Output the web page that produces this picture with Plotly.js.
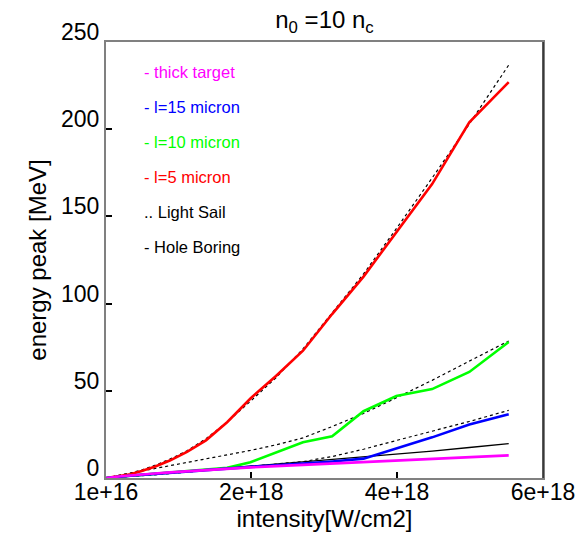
<!DOCTYPE html>
<html>
<head>
<meta charset="utf-8">
<script src="https://cdn.plot.ly/plotly-3.0.1.min.js"></script>
<style>
  html, body { margin: 0; padding: 0; background: #fff; }
  #chart { width: 578px; height: 536px; }
</style>
</head>
<body>
<div id="chart"></div>
<script>
// Laser intensity samples [W/cm2]
const intensity = [1.4e16, 5.5e16, 1.24e17, 2.21e17, 3.46e17, 4.98e17, 6.77e17, 8.85e17, 1.12e18, 1.38e18,
                   1.67e18, 1.99e18, 2.34e18, 2.71e18, 3.11e18, 3.54e18, 3.99e18, 4.48e18, 4.99e18, 5.53e18];

// Simulated energy peak [MeV]
const thickTarget = [0, 0.3, 0.6, 1.0, 1.5, 2.0, 2.6, 3.2, 3.9, 4.6, 5.3, 6.1, 6.8, 7.5, 8.3, 9.2, 10.0, 11.0, 12.0, 13.0];
const l15 = [0, 0.2, 0.5, 0.9, 1.3, 1.8, 2.4, 3.0, 3.8, 4.6, 5.5, 6.4, 7.3, 8.3, 9.5, 11.1, 17.0, 23.3, 30.7, 36.5];
const l10 = [0, 0.2, 0.5, 0.9, 1.3, 1.8, 2.4, 3.0, 3.8, 4.6, 5.8, 9.0, 14.8, 20.5, 23.9, 38.3, 47.0, 51.0, 60.8, 78.0];
const l5  = [0, 0.3, 0.6, 1.2, 2.2, 4.0, 6.5, 10.0, 15.0, 21.6, 32.0, 45.6, 58.5, 73.0, 94.0, 115.5, 141.0, 168.5, 204.0, 227.0];

// Model curves [MeV]
const lightSail5  = [0, 0.3, 0.8, 1.5, 2.8, 4.6, 7.2, 10.8, 15.6, 22.5, 32.0, 44.0, 57.5, 74.0, 94.5, 117.0, 143.0, 172.0, 203.0, 236.8];
const lightSail10 = [0, 0.4, 1.0, 1.8, 2.8, 4.0, 5.5, 7.2, 9.0, 11.0, 13.2, 15.8, 19.0, 23.0, 29.5, 37.0, 46.0, 56.0, 67.0, 78.6];
const lightSail15 = [0, 0.1, 0.2, 0.4, 0.8, 1.2, 1.8, 2.5, 3.4, 4.4, 5.5, 6.7, 7.9, 9.4, 12.3, 16.5, 21.5, 26.9, 32.4, 38.8];
const holeBoring  = [0, 0.2, 0.45, 0.8, 1.2, 1.7, 2.3, 3.0, 3.8, 4.7, 5.6, 6.7, 7.8, 9.1, 10.5, 12.0, 13.6, 15.4, 17.5, 19.7];

// Axis ticks
const xTickVals = [1e16, 2e18, 4e18, 6e18];
const xTickText = ['1e+16', '2e+18', '4e+18', '6e+18'];
const yTickVals = [0, 50, 100, 150, 200, 250];

// Text key drawn inside the plot
const keyLabels = ['- thick target', '- l=15 micron', '- l=10 micron', '- l=5 micron', '.. Light Sail', '- Hole Boring'];
const keyColors = ['#ff00ff', '#0000ff', '#00ff00', '#ff0000', '#000000', '#000000'];

const FONT = 'Liberation Sans, Arial, Helvetica, sans-serif';

function line(y, color, width, dash) {
  return { x: intensity, y: y, type: 'scatter', mode: 'lines', showlegend: false,
           hoverinfo: 'skip', line: { color: color, width: width, dash: dash || 'solid' } };
}

const traces = [
  line(lightSail5, '#000000', 1.2, 'dot'),
  line(lightSail10, '#000000', 1.2, 'dot'),
  line(lightSail15, '#000000', 1.2, 'dot'),
  line(holeBoring, '#000000', 1.3),
  line(l5, '#ff0000', 2.6),
  line(l10, '#00ff00', 2.6),
  line(l15, '#0000ff', 2.6),
  line(thickTarget, '#ff00ff', 2.6)
];

const keyTop = 0.932, keyStep = 0.0803;
const annotations = keyLabels.map((t, i) => ({
  text: t, xref: 'paper', yref: 'paper', x: 0.083, y: keyTop - i * keyStep,
  xanchor: 'left', yanchor: 'middle', showarrow: false,
  font: { family: FONT, size: 16.5, color: keyColors[i] }
}));

const layout = {
  width: 578, height: 536,
  margin: { l: 106, r: 35, t: 42, b: 58, pad: 0 },
  paper_bgcolor: '#ffffff', plot_bgcolor: '#ffffff',
  font: { family: FONT, color: '#000000' },
  title: {
    text: 'n<sub>0</sub> =10 n<sub>c</sub>',
    font: { family: FONT, size: 24, color: '#000000' },
    x: 0.5, xref: 'paper', xanchor: 'center',
    y: 0.963, yref: 'container', yanchor: 'middle'
  },
  xaxis: {
    range: [1e16, 6e18], tickmode: 'array', tickvals: xTickVals, ticktext: xTickText,
    ticks: 'inside', ticklen: 6, tickwidth: 2, tickcolor: '#000000',
    showline: true, linecolor: '#808080', linewidth: 2, mirror: true,
    showgrid: false, zeroline: false,
    ticklabelstandoff: -8,
    tickfont: { family: FONT, size: 23, color: '#000000' },
    title: { text: 'intensity[W/cm2]', font: { family: FONT, size: 24, color: '#000000' }, standoff: 4 }
  },
  yaxis: {
    range: [0, 250], tickmode: 'array', tickvals: yTickVals,
    ticks: 'inside', ticklen: 6, tickwidth: 2, tickcolor: '#000000',
    showline: true, linecolor: '#808080', linewidth: 2, mirror: true,
    showgrid: false, zeroline: false,
    ticklabelshift: -10,
    tickfont: { family: FONT, size: 23, color: '#000000' },
    title: { text: 'energy peak [MeV]', font: { family: FONT, size: 24, color: '#000000' }, standoff: 8 }
  },
  shapes: [
    { type: 'line', xref: 'paper', yref: 'paper', x0: 1, x1: 1, y0: 0, y1: 1,
      line: { color: '#222222', width: 1.5 } }
  ],
  annotations: annotations
};

Plotly.newPlot('chart', traces, layout, { displayModeBar: false, staticPlot: true });
</script>
</body>
</html>
